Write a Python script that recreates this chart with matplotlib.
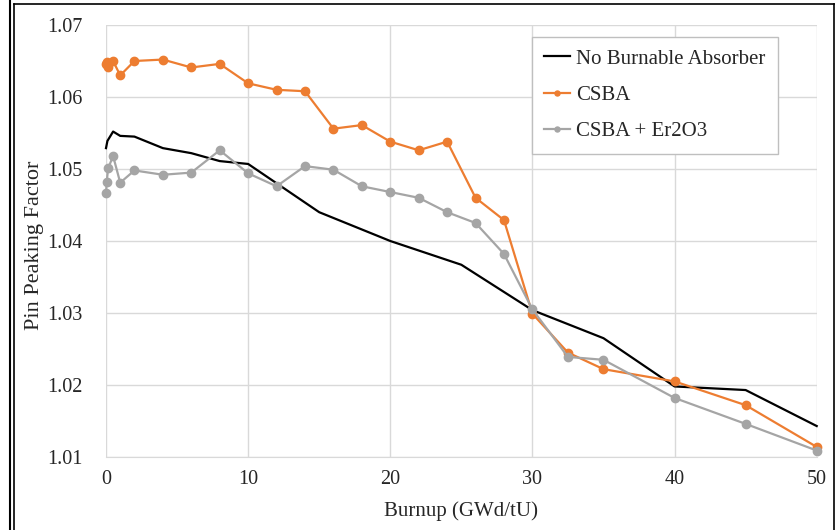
import matplotlib.pyplot as plt
from matplotlib.lines import Line2D

plt.rcParams['font.family'] = ['Liberation Serif', 'DejaVu Serif']

# burnup steps (GWd/tU)
burnup_nba = [0, 0.1, 0.5, 1, 2, 4, 6, 8, 10, 15, 20, 25, 30, 35, 40, 45, 50]
burnup = [0, 0.05, 0.15, 0.5, 1, 2, 4, 6, 8, 10, 12, 14, 16, 18, 20, 22, 24,
          26, 28, 30, 32.5, 35, 40, 45, 50]

ppf_nba = [1.0529, 1.0539, 1.0552, 1.0546, 1.0545, 1.0529, 1.0522, 1.0511,
           1.0507, 1.0440, 1.0400, 1.0367, 1.0304, 1.0265, 1.0198, 1.0193,
           1.0143]
ppf_csba = [1.0646, 1.0648, 1.0641, 1.0650, 1.0630, 1.0650, 1.0652, 1.0641,
            1.0646, 1.0619, 1.0610, 1.0608, 1.0556, 1.0561, 1.0538, 1.0526,
            1.0538, 1.0460, 1.0429, 1.0299, 1.0245, 1.0222, 1.0205, 1.0172,
            1.0114]
ppf_er = [1.0466, 1.0482, 1.0501, 1.0518, 1.0481, 1.0498, 1.0492, 1.0495,
          1.0526, 1.0494, 1.0476, 1.0504, 1.0499, 1.0476, 1.0468, 1.0460,
          1.0440, 1.0425, 1.0382, 1.0305, 1.0239, 1.0235, 1.0182, 1.0146,
          1.0109]

labels = ['No Burnable Absorber', 'CSBA', 'CSBA + Er2O3']
x_ticks = [0, 10, 20, 30, 40, 50]
y_ticks = [1.01, 1.02, 1.03, 1.04, 1.05, 1.06, 1.07]

W, H = 839, 530
fig = plt.figure(figsize=(W / 100, H / 100), dpi=100)

# page borders round the chart
fig.add_artist(Line2D([9.5 / W, 9.5 / W], [0, 1], color='black', lw=1.5))
fig.add_artist(Line2D([13.5 / W, 13.5 / W], [0, 1 - 4 / H], color='black', lw=1.2))
fig.add_artist(Line2D([13.5 / W, 833.5 / W], [1 - 4 / H, 1 - 4 / H], color='black', lw=1.2))
fig.add_artist(Line2D([833.5 / W, 833.5 / W], [0, 1 - 4 / H], color='black', lw=1.2))

ax = fig.add_axes([106 / W, 1 - 457 / H, 710.7 / W, 432 / H])

ax.plot(burnup_nba, ppf_nba, color='black', lw=1.6, label=labels[0],
        clip_on=False, zorder=3)
ax.plot(burnup, ppf_csba, color='#ED7D31', lw=1.6, marker='o', ms=6,
        label=labels[1], clip_on=False, zorder=4)
ax.plot(burnup, ppf_er, color='#A5A5A5', lw=1.6, marker='o', ms=6,
        label=labels[2], clip_on=False, zorder=5)

ax.set_xlim(0, 50)
ax.set_ylim(1.01, 1.07)
ax.set_xticks(x_ticks)
ax.set_yticks(y_ticks)
ax.set_yticklabels([f'{v:.2f}' for v in y_ticks])
ax.grid(True, color='#d9d9d9', lw=1)
ax.set_axisbelow(True)
for side in ['top', 'right', 'left']:
    ax.spines[side].set_visible(False)
ax.spines['bottom'].set_color('#d9d9d9')
ax.tick_params(axis='both', length=0, labelsize=14.5, colors='#262626')
ax.tick_params(axis='y', pad=17)
ax.tick_params(axis='x', pad=9)

ax.set_xlabel('Burnup (GWd/tU)', fontsize=15, color='#262626', labelpad=9.5)
ax.set_ylabel('Pin Peaking Factor', fontsize=16, color='#262626')
ax.yaxis.set_label_coords(-0.087, 0.49)

leg = ax.legend(loc='upper left', bbox_to_anchor=(531.7 / W, 1 - 36.7 / H),
                bbox_transform=fig.transFigure, borderaxespad=0,
                fontsize=15, fancybox=False, framealpha=1, edgecolor='#bfbfbf',
                handlelength=1.25, handletextpad=0.3, borderpad=0.6,
                labelspacing=0.8, markerscale=0.6)
leg.get_frame().set_linewidth(1)
for t in leg.get_texts():
    t.set_color('#262626')

fig.savefig('out.png', dpi=100)
